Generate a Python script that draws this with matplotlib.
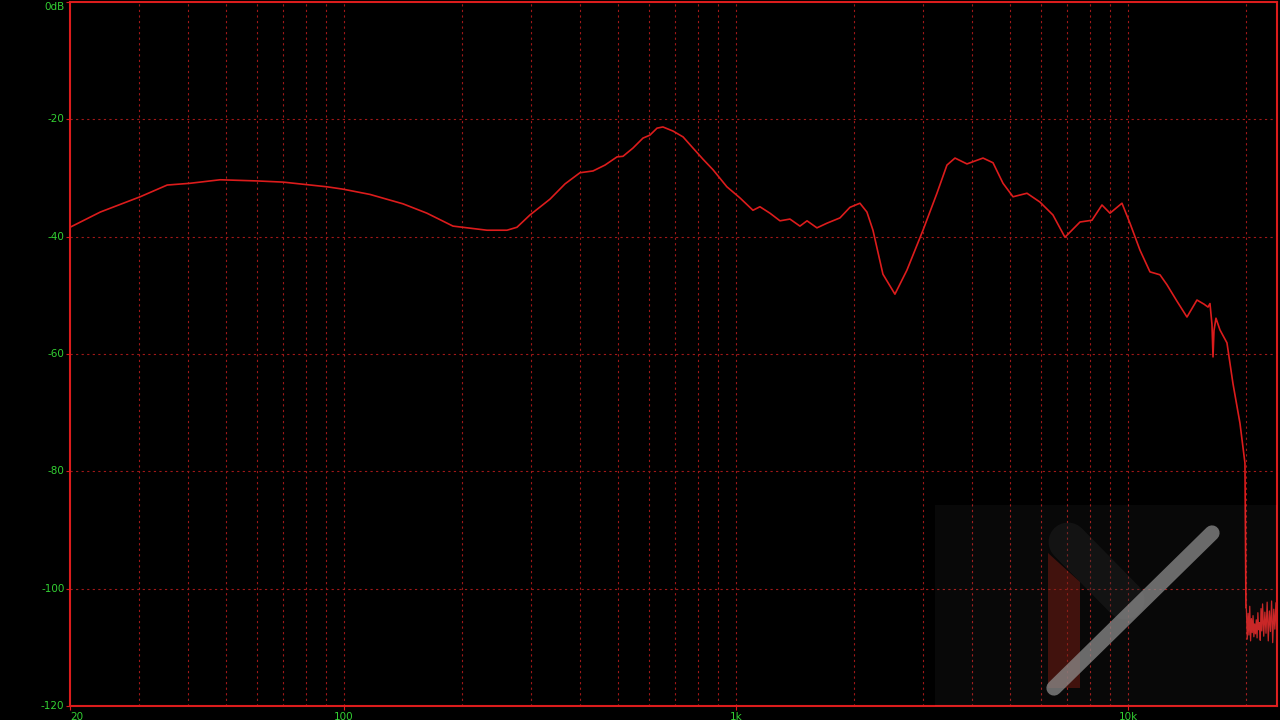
import matplotlib
matplotlib.use("Agg")
import matplotlib.pyplot as plt
from matplotlib.lines import Line2D
from matplotlib.patches import Polygon, Rectangle

# Réponse en fréquence (Hz, dB)
freq = [20, 23.9, 30.2, 35.4, 40.5, 48.3, 60.0, 69.9, 90.5, 99.4, 116.5, 141.4,
        162.8, 189.7, 231.6, 260.5, 276.2, 298.2, 335.4, 366.4, 400, 431.8, 463.2,
        497.2, 515, 546, 579, 603, 629, 651, 691, 733, 777, 824, 874, 948, 1024,
        1105, 1151, 1221, 1295, 1373, 1456, 1518, 1609, 1707, 1842, 1953, 2071,
        2158, 2236, 2371, 2544, 2730, 3000, 3256, 3453, 3620, 3884, 4268, 4526,
        4800, 5091, 5526, 5963, 6436, 6907, 7545, 8094, 8584, 8998, 9654, 10118,
        10732, 11380, 12070, 12576, 13336, 14143, 14998, 15630, 16002, 16190,
        16382, 16480, 16576, 16770, 17168, 17888, 18526, 19308, 19882, 20000]
db = [-38.4, -35.8, -33.2, -31.2, -30.9, -30.3, -30.5, -30.7, -31.5, -31.9, -32.8,
      -34.4, -36.0, -38.2, -38.9, -38.9, -38.4, -36.3, -33.6, -31.0, -29.1, -28.8,
      -27.8, -26.4, -26.3, -24.9, -23.2, -22.7, -21.5, -21.3, -22.0, -23.0, -24.9,
      -26.8, -28.6, -31.5, -33.4, -35.5, -34.9, -36.0, -37.3, -37.0, -38.2, -37.3,
      -38.5, -37.7, -36.8, -35.0, -34.3, -35.8, -38.9, -46.4, -49.8, -45.7, -38.9,
      -32.6, -27.8, -26.6, -27.6, -26.6, -27.4, -30.9, -33.2, -32.6, -34.1, -36.3,
      -40.1, -37.5, -37.2, -34.6, -36.0, -34.3, -37.7, -42.3, -46.0, -46.5, -48.2,
      -51.0, -53.7, -50.8, -51.5, -52.0, -51.4, -55.0, -60.5, -56.0, -53.9, -55.9,
      -58.1, -65.0, -71.8, -78.6, -103.2]

# Bruit de fond au-delà de 20 kHz
noise_freq = [20050, 20150, 20250, 20350, 20450, 20550, 20650, 20750, 20850, 20950,
              21050, 21150, 21250, 21350, 21450, 21550, 21650, 21750, 21850, 21950,
              22050, 22200, 22350, 22500, 22650, 22800, 22950, 23100, 23250, 23400,
              23550, 23700, 23850, 24000]
noise_db = [-103.5, -108.6, -104.2, -107.9, -103.0, -108.9, -105.1, -107.5, -104.6,
            -108.2, -106.0, -107.7, -105.3, -108.4, -104.1, -107.0, -105.8, -108.8,
            -103.4, -107.2, -102.6, -108.1, -104.0, -107.6, -102.3, -108.9, -103.8,
            -107.3, -102.1, -109.2, -103.5, -106.9, -102.4, -108.7]

x_ticks = [20, 100, 1000, 10000]
x_labels = ["20", "100", "1k", "10k"]
y_ticks = [0, -20, -40, -60, -80, -100, -120]
y_labels = ["0dB", "-20", "-40", "-60", "-80", "-100", "-120"]
minor_grid = [30, 40, 50, 60, 70, 80, 90, 200, 300, 400, 500, 600, 700, 800, 900,
              2000, 3000, 4000, 5000, 6000, 7000, 8000, 9000, 20000]

red = "#dc1c1c"
grid_red = "#a01818"
green = "#33d033"

fig = plt.figure(figsize=(12.8, 7.2), dpi=100, facecolor="black")
ax = fig.add_axes([70 / 1280, 14 / 720, 1207 / 1280, 704 / 720])
ax.set_facecolor("black")
ax.set_xscale("log")
ax.set_xlim(20, 24000)
ax.set_ylim(-120, 0)

# Grille pointillée
for f in minor_grid + x_ticks[1:]:
    ax.axvline(f, color=grid_red, lw=0.8, ls=(0, (2, 3)), zorder=1)
for y in y_ticks[1:-1]:
    ax.axhline(y, color=grid_red, lw=0.8, ls=(0, (2, 3)), zorder=1)

ax.plot(freq, db, color=red, lw=1.2, zorder=3)
ax.plot([freq[-1]] + noise_freq, [db[-1]] + noise_db, color="#c82020", lw=0.9, zorder=3)

ax.set_xticks(x_ticks)
ax.set_xticklabels(x_labels)
ax.xaxis.set_minor_locator(matplotlib.ticker.NullLocator())
ax.set_yticks(y_ticks)
ax.set_yticklabels(y_labels)
ax.tick_params(colors=red, labelcolor=green, labelsize=7.5, length=3, width=0.8, pad=1)
ax.get_xticklabels()[0].set_horizontalalignment("left")
for lab in ax.get_yticklabels():
    lab.set_verticalalignment("center")
ax.get_yticklabels()[0].set_verticalalignment("top")
for s in ax.spines.values():
    s.set_color(red)
    s.set_linewidth(1.5)


def px(x, y):
    return (x / 1280, 1 - y / 720)


# Logo en filigrane (coin inférieur droit)
fig.add_artist(Rectangle(px(935, 706), 342 / 1280, 201 / 720, transform=fig.transFigure,
                         facecolor="white", alpha=0.035, edgecolor="none", zorder=5))
fig.add_artist(Line2D([px(1068, 542)[0], px(1125, 600)[0]], [px(1068, 542)[1], px(1125, 600)[1]],
                      transform=fig.transFigure, lw=28, color="#2a2a2a", alpha=0.35,
                      solid_capstyle="round", zorder=6))
fig.add_artist(Polygon([px(1048, 553), px(1080, 582), px(1080, 688), px(1048, 688)],
                       closed=True, transform=fig.transFigure, facecolor="#7a1c12",
                       alpha=0.5, edgecolor="none", zorder=6))
fig.add_artist(Line2D([px(1054, 688)[0], px(1212, 533)[0]], [px(1054, 688)[1], px(1212, 533)[1]],
                      transform=fig.transFigure, lw=11, color="#8c8c8c", alpha=0.75,
                      solid_capstyle="round", zorder=7))

fig.savefig("out.png", dpi=100, facecolor="black")
